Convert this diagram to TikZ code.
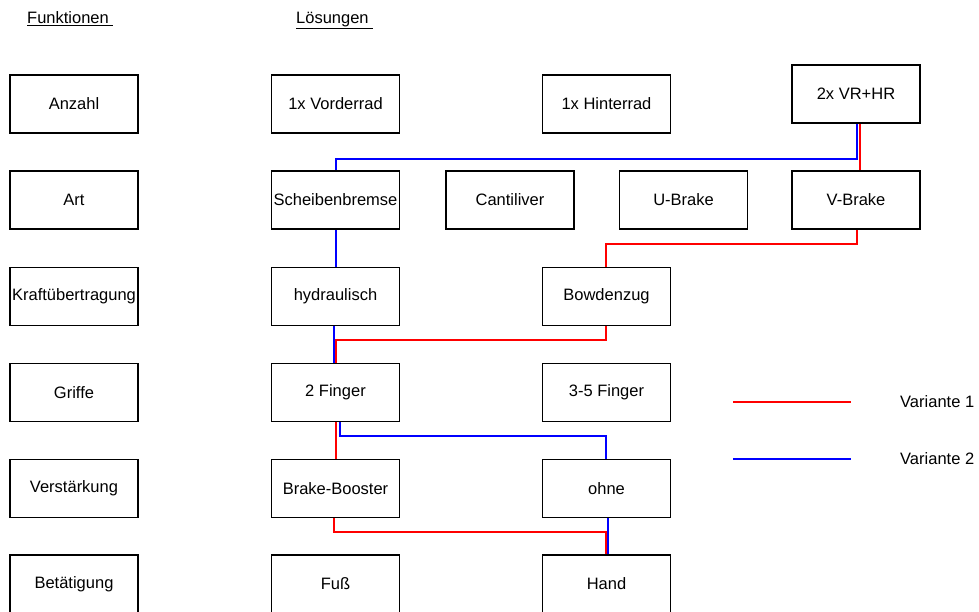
\documentclass[tikz,border=0pt]{standalone}
\usepackage{fontspec}
\setmainfont{Liberation Sans}
\begin{document}
\begin{tikzpicture}[x=1pt,y=-1pt,
  box/.style={draw=black,line width=1.8pt,fill=white,minimum width=128pt,minimum height=58pt,inner sep=0pt,font=\fontsize{16.5}{19}\selectfont},
  txt/.style={inner sep=0pt,font=\fontsize{16.5}{19}\selectfont},
  rl/.style={draw=red,line width=2pt},
  bl/.style={draw=blue,line width=2pt}]
\useasboundingbox (0,0) rectangle (979,612);
% headers
\node[txt,anchor=base west] (hf) at (27,23.5) {\underline{Funktionen\ }};
\node[txt,anchor=base west] (hl) at (296,23.5) {\underline{Lösungen\ }};
% column 1
\node[box] (anzahl) at (74,104) {Anzahl};
\node[box] (art) at (74,200) {Art};
\node[box] (kraft) at (74,296.5) {Kraftübertragung};
\node[box] (griffe) at (74,392.5) {Griffe};
\node[box] (verst) at (74,488.5) {Verstärkung};
\node[box] (betaet) at (74,584) {Betätigung};
% solutions
\node[box] (vorder) at (335.5,104) {1x Vorderrad};
\node[box] (hinter) at (606.5,104) {1x Hinterrad};
\node[box] (vrhr) at (856,94) {2x VR+HR};
\node[box] (scheibe) at (335.5,200) {Scheibenbremse};
\node[box] (canti) at (510,200) {Cantiliver};
\node[box] (ubrake) at (683.5,200) {U-Brake};
\node[box] (vbrake) at (856,200) {V-Brake};
\node[box] (hydr) at (335.5,296.5) {hydraulisch};
\node[box] (bowden) at (606.5,296.5) {Bowdenzug};
\node[box] (finger2) at (335.5,392.5) {2 Finger};
\node[box] (finger35) at (606.5,392.5) {3-5 Finger};
\node[box] (booster) at (335.5,488.5) {Brake-Booster};
\node[box] (ohne) at (606.5,488.5) {ohne};
\node[box] (fuss) at (335.5,584) {Fuß};
\node[box] (hand) at (606.5,584) {Hand};
% Variante 2 (blue)
\draw[bl] ([xshift=1pt]vrhr.south) -- ++(0,-35pt) -| ([xshift=0.5pt]scheibe.north);
\draw[bl] ([xshift=0.5pt]scheibe.south) -- ([xshift=0.5pt]hydr.north);
\draw[bl] ([xshift=-1.5pt]hydr.south) -- ([xshift=-1.5pt]finger2.north);
\draw[bl] ([xshift=4.5pt]finger2.south) -- ++(0,-14pt) -| ([xshift=-0.5pt]ohne.north);
\draw[bl] ([xshift=1.5pt]ohne.south) -- ([xshift=1.5pt]hand.north);
% Variante 1 (red)
\draw[rl] ([xshift=4pt]vrhr.south) -- ([xshift=4pt]vrhr.south |- vbrake.north);
\draw[rl] ([xshift=1pt]vbrake.south) -- ++(0,-14pt) -| ([xshift=-0.5pt]bowden.north);
\draw[rl] ([xshift=-0.5pt]bowden.south) -- ++(0,-14pt) -| ([xshift=0.5pt]finger2.north);
\draw[rl] ([xshift=0.5pt]finger2.south) -- ([xshift=0.5pt]booster.north);
\draw[rl] ([xshift=-1.5pt]booster.south) -- ++(0,-14pt) -| ([xshift=-0.5pt]hand.north);
% legend
\coordinate (l1a) at (733,402);
\coordinate (l1b) at (851,402);
\coordinate (l2a) at (733,459);
\coordinate (l2b) at (851,459);
\draw[rl] (l1a) -- (l1b);
\draw[bl] (l2a) -- (l2b);
\node[txt,anchor=west] (v1) at (900,402) {Variante 1};
\node[txt,anchor=west] (v2) at (900,459) {Variante 2};
\end{tikzpicture}
\end{document}
